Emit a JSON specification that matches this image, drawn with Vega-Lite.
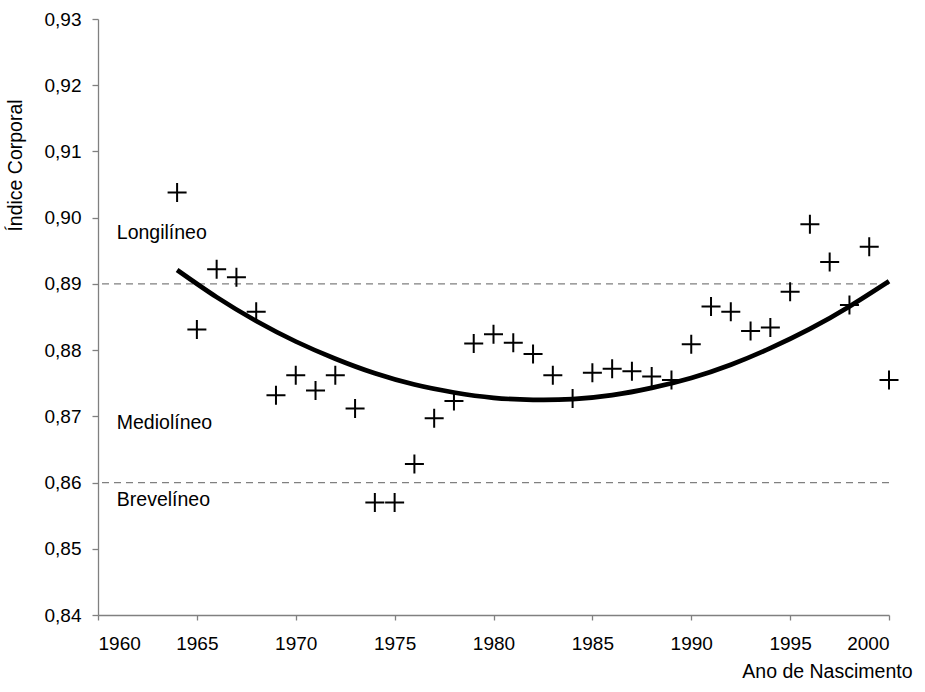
{
  "$schema": "https://vega.github.io/schema/vega-lite/v6.json",
  "width": 791,
  "height": 596,
  "autosize": {"type": "none"},
  "padding": {"left": 98, "top": 19, "right": 36, "bottom": 77},
  "background": "white",
  "config": {
    "locale": {"number": {"decimal": ",", "thousands": ".", "grouping": [3], "currency": ["", ""]}},
    "view": {"stroke": null},
    "font": "Liberation Sans",
    "axis": {
      "labelFont": "Liberation Sans",
      "titleFont": "Liberation Sans",
      "labelFontSize": 19,
      "titleFontSize": 19.5,
      "titleFontWeight": "normal",
      "labelColor": "black",
      "titleColor": "black",
      "domainColor": "#808080",
      "tickColor": "#808080",
      "domainWidth": 1.3,
      "tickWidth": 1.3,
      "grid": false
    }
  },
  "datasets": {
    "pts": [
      {"ano": 1964, "indice": 0.9038},
      {"ano": 1965, "indice": 0.8831},
      {"ano": 1966, "indice": 0.8922},
      {"ano": 1967, "indice": 0.8910},
      {"ano": 1968, "indice": 0.8858},
      {"ano": 1969, "indice": 0.8732},
      {"ano": 1970, "indice": 0.8762},
      {"ano": 1971, "indice": 0.8739},
      {"ano": 1972, "indice": 0.8762},
      {"ano": 1973, "indice": 0.8712},
      {"ano": 1974, "indice": 0.8570},
      {"ano": 1975, "indice": 0.8570},
      {"ano": 1976, "indice": 0.8628},
      {"ano": 1977, "indice": 0.8697},
      {"ano": 1978, "indice": 0.8723},
      {"ano": 1979, "indice": 0.8810},
      {"ano": 1980, "indice": 0.8824},
      {"ano": 1981, "indice": 0.8811},
      {"ano": 1982, "indice": 0.8794},
      {"ano": 1983, "indice": 0.8762},
      {"ano": 1984, "indice": 0.8727},
      {"ano": 1985, "indice": 0.8766},
      {"ano": 1986, "indice": 0.8772},
      {"ano": 1987, "indice": 0.8768},
      {"ano": 1988, "indice": 0.8760},
      {"ano": 1989, "indice": 0.8755},
      {"ano": 1990, "indice": 0.8809},
      {"ano": 1991, "indice": 0.8866},
      {"ano": 1992, "indice": 0.8858},
      {"ano": 1993, "indice": 0.8829},
      {"ano": 1994, "indice": 0.8834},
      {"ano": 1995, "indice": 0.8888},
      {"ano": 1996, "indice": 0.8990},
      {"ano": 1997, "indice": 0.8933},
      {"ano": 1998, "indice": 0.8868},
      {"ano": 1999, "indice": 0.8956},
      {"ano": 2000, "indice": 0.8755}
    ],
    "tendencia": [
      {"ano": 1964, "indice": 0.8921},
      {"ano": 1966, "indice": 0.8880},
      {"ano": 1968, "indice": 0.8844},
      {"ano": 1970, "indice": 0.8813},
      {"ano": 1972, "indice": 0.8787},
      {"ano": 1974, "indice": 0.8765},
      {"ano": 1976, "indice": 0.8748},
      {"ano": 1978, "indice": 0.8736},
      {"ano": 1980, "indice": 0.8728},
      {"ano": 1982, "indice": 0.8725},
      {"ano": 1984, "indice": 0.8726},
      {"ano": 1986, "indice": 0.8732},
      {"ano": 1988, "indice": 0.8743},
      {"ano": 1990, "indice": 0.8758},
      {"ano": 1992, "indice": 0.8778},
      {"ano": 1994, "indice": 0.8803},
      {"ano": 1996, "indice": 0.8832},
      {"ano": 1998, "indice": 0.8866},
      {"ano": 2000, "indice": 0.8904}
    ],
    "refs": [
      {"nivel": 0.89},
      {"nivel": 0.86}
    ],
    "labels": [
      {"rotulo": "Longilíneo", "ano": 1960.95, "indice": 0.8977},
      {"rotulo": "Mediolíneo", "ano": 1960.95, "indice": 0.8690},
      {"rotulo": "Brevelíneo", "ano": 1960.95, "indice": 0.8573}
    ]
  },
  "layer": [
    {
      "data": {"name": "refs"},
      "mark": {"type": "rule", "color": "#808080", "strokeWidth": 1.3, "strokeDash": [7, 5]},
      "encoding": {
        "y": {"field": "nivel", "type": "quantitative", "scale": {"domain": [0.84, 0.93], "zero": false, "nice": false}}
      }
    },
    {
      "data": {"name": "labels"},
      "mark": {"type": "text", "align": "left", "baseline": "middle", "fontSize": 19.5, "font": "Liberation Sans", "color": "black"},
      "encoding": {
        "x": {"field": "ano", "type": "quantitative"},
        "y": {"field": "indice", "type": "quantitative"},
        "text": {"field": "rotulo"}
      }
    },
    {
      "data": {"name": "pts"},
      "mark": {"type": "point", "shape": "M-1,0H1M0,-1V1", "size": 361, "filled": false, "stroke": "black", "strokeWidth": 2, "opacity": 1},
      "encoding": {
        "x": {
          "field": "ano", "type": "quantitative",
          "scale": {"domain": [1960, 2000], "zero": false, "nice": false},
          "axis": {
            "title": "Ano de Nascimento",
            "values": [1960, 1965, 1970, 1975, 1980, 1985, 1990, 1995, 2000],
            "format": "d",
            "tickSize": 5,
            "labelPadding": 14,
            "titleAnchor": "end",
            "titleAlign": "right",
            "titleX": 814,
            "titleY": 62,
            "titleBaseline": "alphabetic"
          }
        },
        "y": {
          "field": "indice", "type": "quantitative",
          "scale": {"domain": [0.84, 0.93], "zero": false, "nice": false},
          "axis": {
            "title": "Índice Corporal",
            "values": [0.84, 0.85, 0.86, 0.87, 0.88, 0.89, 0.90, 0.91, 0.92, 0.93],
            "format": ".2f",
            "tickSize": 6,
            "labelPadding": 11,
            "titleAngle": -90,
            "titleAlign": "center",
            "titleBaseline": "middle",
            "titleX": -83,
            "titleY": 146
          }
        }
      }
    },
    {
      "data": {"name": "tendencia"},
      "mark": {"type": "line", "color": "black", "strokeWidth": 4.7, "interpolate": "natural"},
      "encoding": {
        "x": {"field": "ano", "type": "quantitative"},
        "y": {"field": "indice", "type": "quantitative"}
      }
    }
  ]
}
